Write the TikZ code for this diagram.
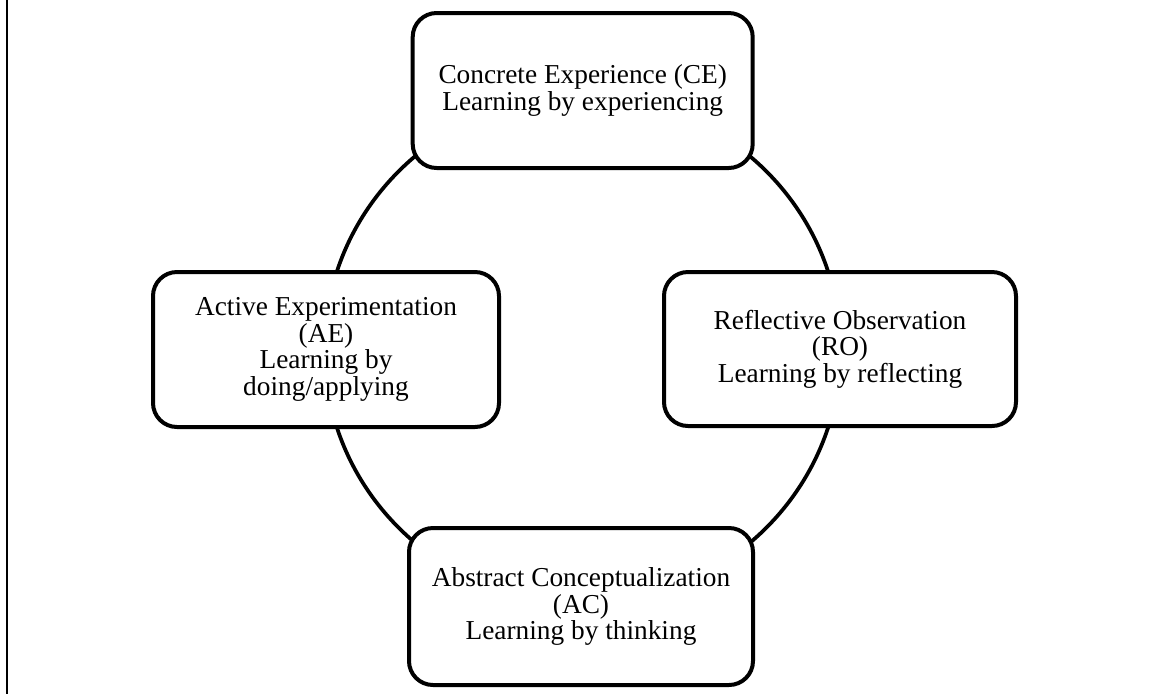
\documentclass[tikz,border=0pt]{standalone}
\usepackage{fontspec}
\setmainfont{Liberation Serif}
\begin{document}
\begin{tikzpicture}[x=0.75pt,y=-0.75pt,
  stage/.style={draw=black, line width=3pt, rounded corners=18pt, fill=white,
    align=center, inner sep=0pt, font=\fontsize{20.5}{20}\selectfont,
    execute at begin node={\rule{0pt}{19pt}}},
  ring/.style={draw=black, line width=2.8pt},
  frame/.style={draw=black, line width=1.5pt}]
\useasboundingbox (0,0) rectangle (1157,694);

% the learning cycle runs behind the four stages
\coordinate (hub) at (582.5,349.5);
\draw[ring] (hub) ellipse [x radius=193.5pt, y radius=190.5pt];

% the four stages
\node[stage, minimum width=255pt, minimum height=116.25pt] (ce) at (582.7,90.5)
  {Concrete Experience (CE)\\Learning by experiencing};
\node[stage, minimum width=259.5pt, minimum height=116.25pt] (ae) at (326,349.5)
  {Active Experimentation\\(AE)\\Learning by\\doing/applying};
\node[stage, minimum width=264pt, minimum height=115.5pt] (ro) at (840,349)
  {Reflective Observation\\(RO)\\Learning by reflecting};
\node[stage, minimum width=258pt, minimum height=117.75pt] (ac) at (581,606.5)
  {Abstract Conceptualization\\(AC)\\Learning by thinking};

% left edge rule
\coordinate (ft) at (6.5,0);
\coordinate (fb) at (6.5,694);
\draw[frame] (ft) -- (fb);
\end{tikzpicture}
\end{document}
